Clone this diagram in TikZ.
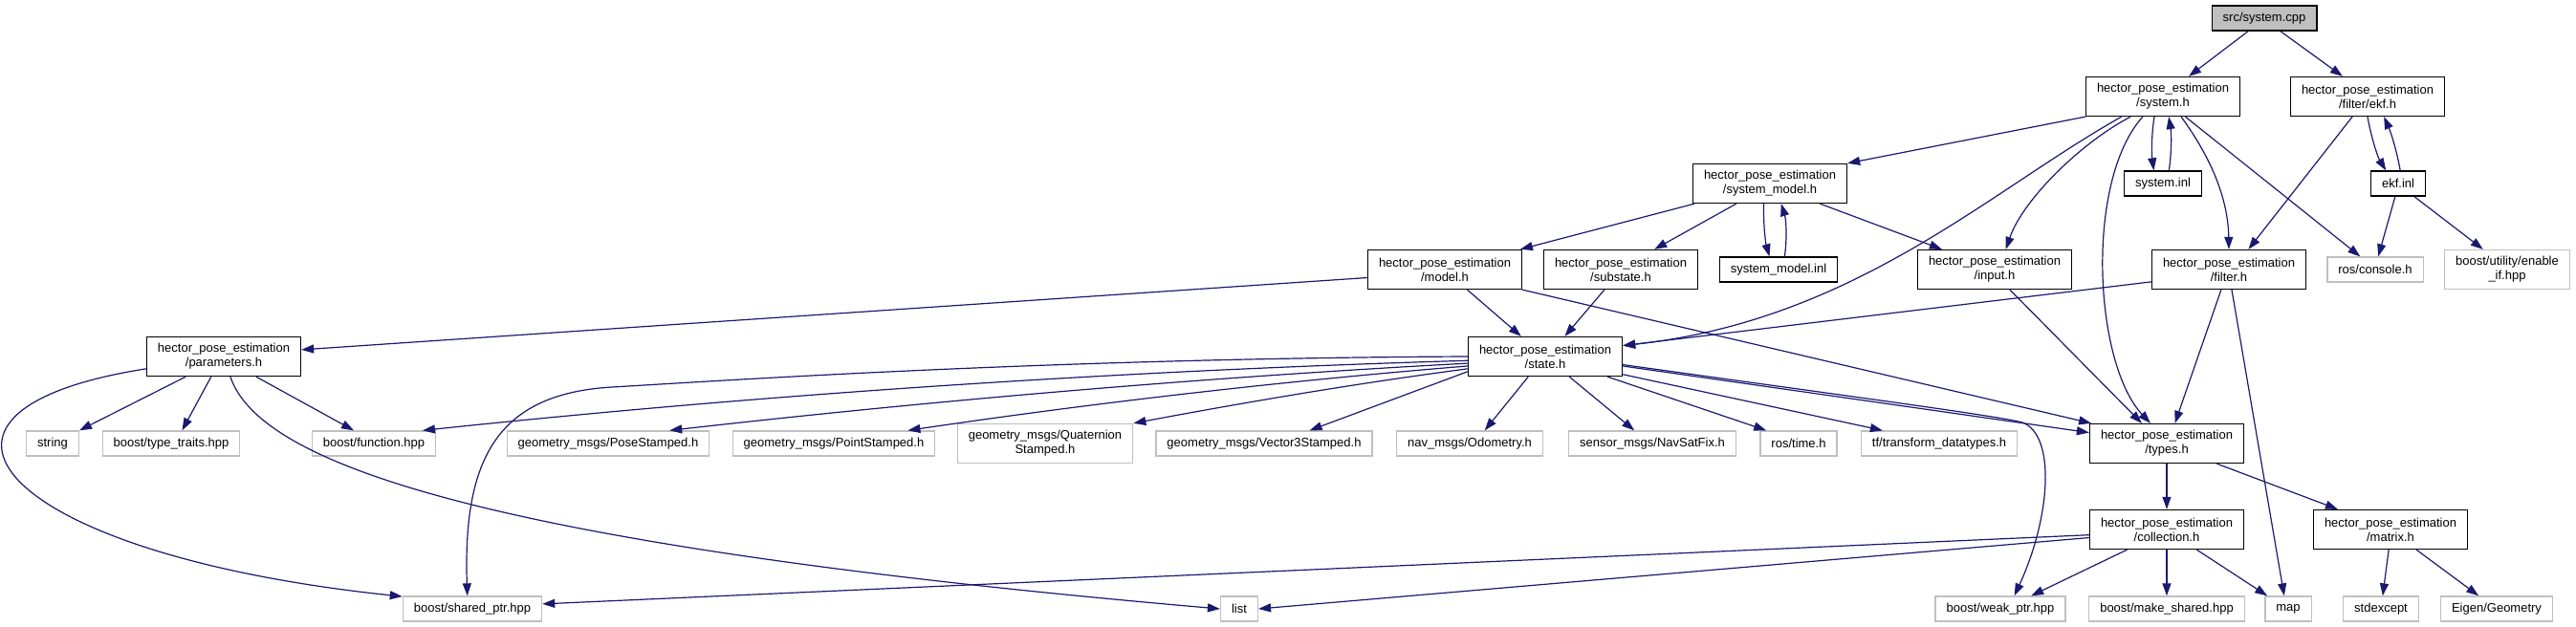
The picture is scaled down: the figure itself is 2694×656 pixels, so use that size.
\documentclass[tikz,border=0pt]{standalone}
\usepackage{fontspec}
\setmainfont{Liberation Sans}
\usetikzlibrary{arrows.meta}
\definecolor{edgeblue}{RGB}{25,25,112}
\definecolor{extgray}{RGB}{191,191,191}

\tikzset{
  file/.style={draw=black, line width=1.3pt, fill=white, inner xsep=11.5pt, inner ysep=2pt,
    minimum height=26pt, align=center, font=\fontsize{13}{15}\selectfont},
  pkg/.style={file, minimum height=41pt},
  extfile/.style={file, draw=extgray},
  extpkg/.style={pkg, draw=extgray},
  rootfile/.style={file, fill=extgray},
  dep/.style={draw=edgeblue, line width=1.2pt, -{Triangle[length=13pt,width=9pt]}}
}

\begin{document}
\begin{tikzpicture}[x=1pt, y=-1pt]
\useasboundingbox (0,0) rectangle (2694,656);

% Files of the package
\node[rootfile] (cpp) at (2368,19) {src/system.cpp};
\node[pkg] (sysh) at (2262,101) {hector\_pose\_estimation\\/system.h};
\node[pkg] (ekfh) at (2476,101) {hector\_pose\_estimation\\/filter/ekf.h};
\node[pkg] (smod) at (1851,192) {hector\_pose\_estimation\\/system\_model.h};
\node[file] (sinl) at (2262,192) {system.inl};
\node[file] (einl) at (2508,192) {ekf.inl};
\node[pkg] (model) at (1511,282) {hector\_pose\_estimation\\/model.h};
\node[pkg] (subst) at (1695,282) {hector\_pose\_estimation\\/substate.h};
\node[file] (sminl) at (1860,282) {system\_model.inl};
\node[pkg] (input) at (2086,282) {hector\_pose\_estimation\\/input.h};
\node[pkg] (filt) at (2331,282) {hector\_pose\_estimation\\/filter.h};
\node[pkg] (param) at (234,373) {hector\_pose\_estimation\\/parameters.h};
\node[pkg] (state) at (1616,373) {hector\_pose\_estimation\\/state.h};
\node[pkg] (types) at (2266,464) {hector\_pose\_estimation\\/types.h};
\node[pkg] (coll) at (2266,554) {hector\_pose\_estimation\\/collection.h};
\node[pkg] (matrix) at (2500,554) {hector\_pose\_estimation\\/matrix.h};

% External headers
\node[extfile] (rcons) at (2484,282) {ros/console.h};
\node[extpkg] (enif) at (2622,282) {boost/utility/enable\\\_if.hpp};
\node[extfile] (string) at (55,464) {string};
\node[extfile] (ttraits) at (179,464) {boost/type\_traits.hpp};
\node[extfile] (func) at (391,464) {boost/function.hpp};
\node[extfile] (pose) at (636,464) {geometry\_msgs/PoseStamped.h};
\node[extfile] (point) at (872,464) {geometry\_msgs/PointStamped.h};
\node[extpkg] (quat) at (1093,464) {geometry\_msgs/Quaternion\\Stamped.h};
\node[extfile] (vec3) at (1322,464) {geometry\_msgs/Vector3Stamped.h};
\node[extfile] (odom) at (1537,464) {nav\_msgs/Odometry.h};
\node[extfile] (navsat) at (1728,464) {sensor\_msgs/NavSatFix.h};
\node[extfile] (rtime) at (1881,464) {ros/time.h};
\node[extfile] (tfdt) at (2028,464) {tf/transform\_datatypes.h};
\node[extfile] (shptr) at (494,637) {boost/shared\_ptr.hpp};
\node[extfile] (list) at (1296,637) {list};
\node[extfile] (weak) at (2092,637) {boost/weak\_ptr.hpp};
\node[extfile] (mksh) at (2266,637) {boost/make\_shared.hpp};
\node[extfile] (map) at (2393,637) {map};
\node[extfile] (stdex) at (2490,637) {stdexcept};
\node[extfile] (eigen) at (2611,637) {Eigen/Geometry};

% src/system.cpp
\draw[dep] (cpp.-141) -- (sysh.38);
\draw[dep] (cpp.-39) -- (ekfh.141);

% system.h
\draw[dep] (sysh.south west) -- (smod.north east);
\draw[dep] (sysh.-154) .. controls (2080,200) and (1940,335) .. (state.8);
\draw[dep] (sysh.-148) .. controls (2175,150) and (2115,210) .. (input.61);
\draw[dep] (sysh.-113) .. controls (2250,140) and (2250,160) .. (sinl.125);
\draw[dep] (sinl.65) .. controls (2271,160) and (2271,140) .. (sysh.-74);
\draw[dep] (sysh.-48) .. controls (2305,155) and (2330,200) .. (filt.north);
\draw[dep] (sysh.-42) -- (rcons.139);
\draw[dep] (sysh.-135) .. controls (2180,190) and (2190,380) .. (types.129);

% filter/ekf.h and ekf.inl
\draw[dep] (ekfh.-127) -- (filt.46);
\draw[dep] (ekfh.south) .. controls (2480,145) and (2487,165) .. (einl.133);
\draw[dep] (einl.81) .. controls (2507,160) and (2501,140) .. (ekfh.-51);
\draw[dep] (einl.-103) -- (rcons.77);
\draw[dep] (einl.-39) -- (enif.140);

% system_model.h
\draw[dep] (smod.-165) -- (model.15);
\draw[dep] (smod.-149) -- (subst.31);
\draw[dep] (smod.-107) .. controls (1844,232) and (1846,252) .. (sminl.125);
\draw[dep] (sminl.65) .. controls (1869,250) and (1868,230) .. (smod.-61);
\draw[dep] (smod.-22) -- (input.159);

% model.h, substate.h, input.h, filter.h
\draw[dep] (model.186) -- (param.5);
\draw[dep] (model.-42) -- (state.140);
\draw[dep] (model.south east) -- (types.165);
\draw[dep] (subst.-129) -- (state.46);
\draw[dep] (input.-53) -- (types.141);
\draw[dep] (filt.189) -- (state.8);
\draw[dep] (filt.-111) -- (types.68);
\draw[dep] (filt.-82) -- (map.107);

% parameters.h
\draw[dep] (param.-152) -- (string.north east);
\draw[dep] (param.-122) -- (ttraits.50);
\draw[dep] (param.-32) -- (func.147);
\draw[dep] (param.189) .. controls (-130,430) and (0,580) .. (shptr.170);
\draw[dep] (param.-72) .. controls (270,480) and (480,568) .. (list.west);

% state.h
\draw[dep] (state.180) .. controls (1100,375) and (760,398) .. (640,405)
  .. controls (520,412) and (484,480) .. (shptr.111);
\draw[dep] (state.183) .. controls (1171,388) and (805,412) .. (func.15);
\draw[dep] (state.185) .. controls (1257,395) and (977,419) .. (pose.12);
\draw[dep] (state.187) .. controls (1338,399) and (1141,422) .. (point.10);
\draw[dep] (state.189) .. controls (1419,401) and (1302,421) .. (quat.north east);
\draw[dep] (state.191) -- (vec3.16);
\draw[dep] (state.-130) -- (odom.41);
\draw[dep] (state.-40) -- (navsat.144);
\draw[dep] (state.-18) -- (rtime.158);
\draw[dep] (state.-13) -- (tfdt.167);
\draw[dep] (state.-7) -- (types.172);
\draw[dep] (state.-6) .. controls (1900,410) and (2090,435) .. (2115,442)
  .. controls (2150,455) and (2145,540) .. (weak.43);

% types.h, collection.h, matrix.h
\draw[dep] (types) -- (coll);
\draw[dep] (types.-22) -- (matrix.159);
\draw[dep] (coll.184) -- (shptr.4);
\draw[dep] (coll.186) -- (list.east);
\draw[dep] (coll.-153) -- (weak.23);
\draw[dep] (coll) -- (mksh);
\draw[dep] (coll.-34) -- (map.148);
\draw[dep] (matrix.-95) -- (stdex);
\draw[dep] (matrix.-38) -- (eigen.144);

\end{tikzpicture}
\end{document}
